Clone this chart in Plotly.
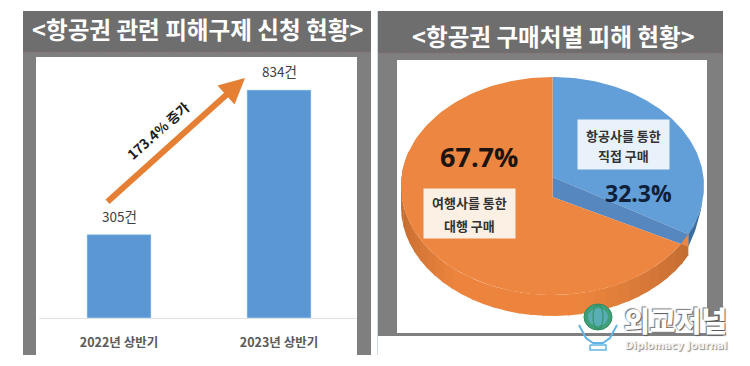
import numpy as np
import plotly.graph_objects as go

W, H = 750, 366
periods = ["2022년 상반기", "2023년 상반기"]
cases = [305, 834]
case_labels = ["305건", "834건"]
channel_lines_direct = ["항공사를 통한", "직접 구매"]
channel_lines_agency = ["여행사를 통한", "대행 구매"]
channel_shares = [32.3, 67.7]
channel_labels = ["32.3%", "67.7%"]
title_left = "&lt;항공권 관련 피해구제 신청 현황&gt;"
title_right = "&lt;항공권 구매처별 피해 현황&gt;"
growth_label = "173.4% 증가"
KR = "Noto Sans CJK KR"


def px(x):
    return x / W


def py(y):
    return 1 - y / H


def rect(x0, y0, x1, y1, color, layer="below"):
    return dict(type="rect", xref="paper", yref="paper", x0=px(x0), x1=px(x1), y0=py(y1), y1=py(y0),
                fillcolor=color, line_width=0, layer=layer)


def hline(x0, x1, y, color, dash="solid", width=1):
    return dict(type="line", xref="paper", yref="paper", x0=px(x0), x1=px(x1), y0=py(y), y1=py(y),
                line=dict(color=color, dash=dash, width=width), layer="below")


def circle(x0, y0, x1, y1, fillcolor, line=None):
    return dict(type="circle", xref="paper", yref="paper", x0=px(x0), x1=px(x1), y0=py(y1), y1=py(y0),
                fillcolor=fillcolor, line=line or dict(width=0), layer="above")


def poly(points, color, width=2):
    path = "M " + " L ".join("%.4f,%.4f" % (px(a), py(b)) for a, b in points)
    return dict(type="path", xref="paper", yref="paper", path=path, line=dict(color=color, width=width), layer="above")


shapes = [
    rect(23, 11, 371, 355, "#7f7f7f"),
    rect(23, 11, 371, 52, "#6e6e6e"),
    rect(36, 57, 357, 355, "#ffffff"),
    hline(23, 371, 52, "#8a6a6a", "dot"),
    rect(377, 11, 378, 355, "#cfdbe8"),
    rect(378, 11, 723, 336, "#7f7f7f"),
    rect(378, 11, 723, 53, "#6e6e6e"),
    rect(397, 60, 707, 333, "#ffffff"),
    hline(378, 723, 53, "#8a6a6a", "dot"),
]

fig = go.Figure()

# ---- bars
fig.add_trace(go.Bar(x=periods, y=cases, width=0.4, marker=dict(color="#5b98d3", line=dict(color="#bfe0f5", width=0.6)),
                     showlegend=False, hoverinfo="skip", xaxis="x", yaxis="y"))

# ---- pie drawn as a tilted disc, angles follow the shares
DEPTH = 0.193
APEX_TOP = 0.083
APEX_LOW = -0.10
WALL = 0.6
blue_end = channel_shares[0] / 100 * 2 * np.pi


def arc(a0, a1, n=120, dy=0.0):
    t = np.linspace(a0, a1, n)
    return np.sin(t), np.cos(t) + dy


def fill(xs, ys, color):
    fig.add_trace(go.Scatter(x=xs, y=ys, mode="lines", fill="toself", fillcolor=color, line=dict(width=0, color=color),
                             hoverinfo="skip", showlegend=False, xaxis="x2", yaxis="y2"))


def mix(c0, c1, f):
    c = [int(round(a + (b - a) * f)) for a, b in zip(c0, c1)]
    return "rgb(%d,%d,%d)" % tuple(c)


# rim, darker toward both sides and melting into the top surface at the front
n_rim = 36
edges = np.linspace(blue_end, 2 * np.pi * 0.80, n_rim + 1)
dark, mid, light = (170, 92, 38), (236, 132, 62), (196, 110, 50)
for i in range(n_rim):
    a0, a1 = edges[i], edges[i + 1] + 0.01
    f = i / (n_rim - 1)
    if f < 0.3:
        col = mix(light, mid, f / 0.3)
    elif f < 0.6:
        col = mix(mid, mid, 0)
    else:
        col = mix(mid, dark, (f - 0.6) / 0.4)
    x0, y0 = arc(a0, a1, 8)
    x1, y1 = arc(a1, a0, 8, -DEPTH)
    fill(np.r_[x0, x1], np.r_[y0, y1], col)

# blue top + inner wall
bx, by = arc(0, blue_end)
fill(np.r_[0, bx], np.r_[APEX_TOP, by], "#629fd8")
ex, ey = np.sin(blue_end), np.cos(blue_end)
fill([0, ex, ex, 0], [APEX_TOP, ey, ey - DEPTH * WALL, APEX_LOW], "#5688bf")
sx, sy = arc(blue_end - 0.3, blue_end, 20)
fill(np.r_[sx, sx[::-1]], np.r_[sy, (sy - DEPTH * WALL * np.linspace(0, 1, 20))[::-1]], "#3a6c9e")

# orange top
ox, oy = arc(blue_end, 2 * np.pi)
fill(np.r_[0, ex, ox, 0], np.r_[APEX_LOW, ey - DEPTH * WALL, oy, APEX_LOW], "#ed8640")

annotations = [
    dict(text=title_left, x=px(197), y=py(29), font=dict(size=23.6, color="#ffffff", family=KR, weight=600)),
    dict(text=title_right, x=px(553), y=py(36), font=dict(size=23.6, color="#ffffff", family=KR, weight=600)),
    dict(text="<b>" + channel_labels[1] + "</b>", x=px(479), y=py(157), font=dict(size=27, color="#1b1410", family="Open Sans")),
    dict(text="<b>" + channel_labels[0] + "</b>", x=px(638), y=py(193), font=dict(size=23, color="#0f2038", family="Open Sans")),
    dict(text=" ", x=px(623.5), y=py(144.5), width=89, height=47, bgcolor="rgba(240,246,252,0.95)", font=dict(size=10)),
    dict(text=" ", x=px(469.5), y=py(213.5), width=89, height=47, bgcolor="rgba(253,244,237,0.95)", font=dict(size=10)),
    dict(text="<b>" + channel_lines_direct[0] + "</b>", x=px(623.5), y=py(135), font=dict(size=13, color="#333333", family=KR)),
    dict(text="<b>" + channel_lines_direct[1] + "</b>", x=px(623.5), y=py(155), font=dict(size=13, color="#333333", family=KR)),
    dict(text="<b>" + channel_lines_agency[0] + "</b>", x=px(469.5), y=py(203), font=dict(size=13, color="#333333", family=KR)),
    dict(text="<b>" + channel_lines_agency[1] + "</b>", x=px(469.5), y=py(225), font=dict(size=13, color="#333333", family=KR)),
    dict(text="<b>" + growth_label + "</b>", x=px(158), y=py(130), textangle=-42,
         font=dict(size=13.5, color="#1a1a1a", family=KR)),
    dict(text="외교저널", x=px(675), y=py(320), font=dict(size=28, color="#ffffff", family=KR, weight=900,
                                                      shadow="1px 1px 1px #555, -1px -1px 1px #777")),
    dict(text="Diplomacy Journal", x=px(676), y=py(345), font=dict(size=10, color="#f4f4f4", family="DejaVu Sans",
                                                                 weight=700, shadow="1px 1px 1px #888")),
]
for a in annotations:
    a.update(xref="paper", yref="paper", showarrow=False, xanchor="center", yanchor="middle")

# arrow
annotations.append(dict(xref="paper", yref="paper", axref="pixel", ayref="pixel", x=px(245), y=py(78), ax=-139, ay=125,
                        text="", showarrow=True, arrowhead=2, arrowsize=0.85, arrowwidth=6, arrowcolor="#e57f33"))

# bar value labels
for p, v, t in zip(periods, cases, case_labels):
    annotations.append(dict(x=p, y=v, xref="x", yref="y", text=t, showarrow=False, yanchor="bottom", yshift=7,
                            font=dict(size=13.5, color="#404040", family=KR)))

# logo: globe over open hands
shapes += [
    circle(584, 304, 612, 330, "#3f9f78", dict(color="#2f8c5f", width=1)),
    circle(588, 308, 608, 326, "#58aeb4"),
    circle(593, 305, 603, 329, "rgba(0,0,0,0)", dict(color="#2f8c5f", width=1)),
    hline(585, 611, 317, "#2f8c5f"),
    poly([(579, 325), (586, 338), (593, 343), (603, 343), (610, 338), (617, 325)], "#62b4e4", 2),
    poly([(590, 345), (606, 345), (606, 350), (590, 350), (590, 345)], "#62b4e4", 1.5),
]
shapes[-1].update(layer="above")

fig.update_layout(
    width=W, height=H, margin=dict(l=0, r=0, t=0, b=0), paper_bgcolor="#ffffff", plot_bgcolor="rgba(0,0,0,0)",
    shapes=shapes, annotations=annotations, bargap=0.6,
    xaxis=dict(domain=[px(39), px(357)], type="category", range=[-0.5, 1.4875], showgrid=False, ticks="", zeroline=False,
               showline=True, linecolor="#dfe3e6", linewidth=1,
               tickfont=dict(size=12.5, color="#5a5a5a", family=KR, weight=600), ticklabelstandoff=13),
    yaxis=dict(domain=[py(318), py(60)], range=[0, 258 / 0.2734], visible=False),
    xaxis2=dict(domain=[px(401), px(704)], range=[-1, 1], visible=False),
    yaxis2=dict(domain=[py(316), py(77)], range=[-1 - DEPTH, 1], visible=False, anchor="x2"),
)
fig.write_html("out.html", config={"displayModeBar": False}, post_script="document.body.style.margin='0';")
